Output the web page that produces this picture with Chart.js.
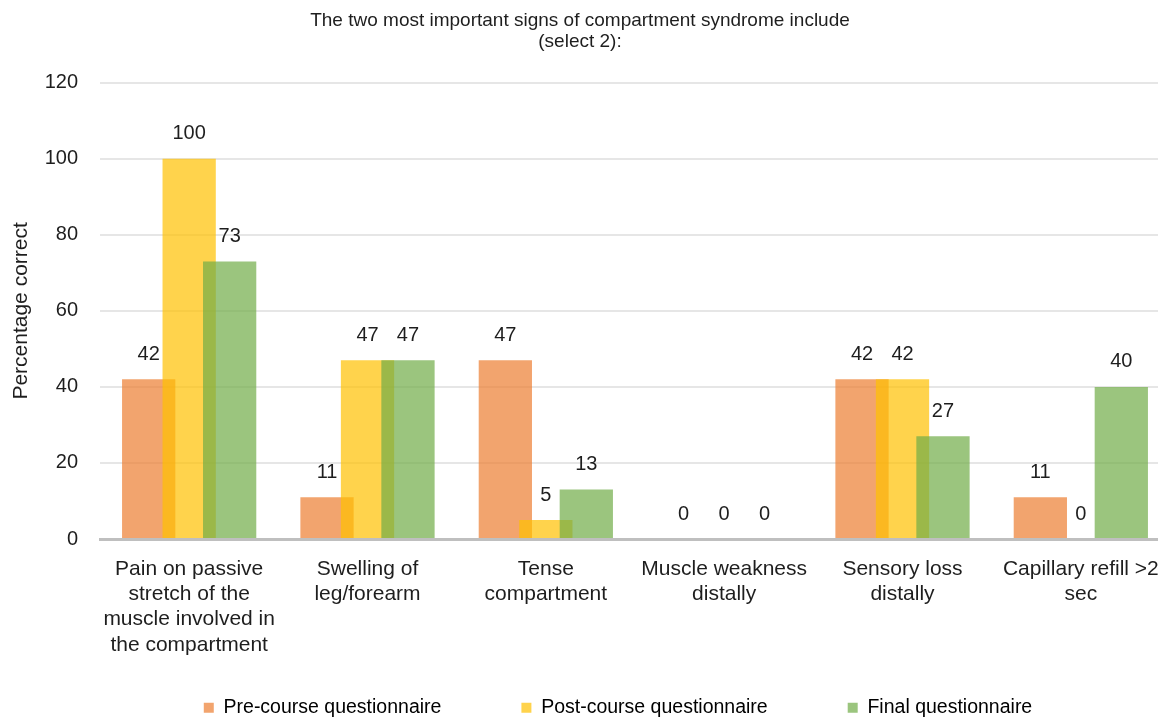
<!DOCTYPE html>
<html>
<head>
<meta charset="utf-8">
<script src="https://cdn.jsdelivr.net/npm/chart.js@4.4.0/dist/chart.umd.min.js"></script>
<style>
  html, body { margin: 0; padding: 0; overflow: hidden; background: #ffffff; }
  #wrap { position: relative; width: 1170px; height: 718px; }
</style>
</head>
<body>
<div id="wrap"><canvas id="c"></canvas></div>
<script>
const categories = [
  ["Pain on passive", "stretch of the", "muscle involved in", "the compartment"],
  ["Swelling of", "leg/forearm"],
  ["Tense", "compartment"],
  ["Muscle weakness", "distally"],
  ["Sensory loss", "distally"],
  ["Capillary refill >2", "sec"]
];
const preCourse = [42, 11, 47, 0, 42, 11];
const postCourse = [100, 47, 5, 0, 42, 0];
const finalQ = [73, 47, 13, 0, 27, 40];
const seriesNames = ["Pre-course questionnaire", "Post-course questionnaire", "Final questionnaire"];
const yTicks = [0, 20, 40, 60, 80, 100, 120];

const FONT = "'Liberation Sans', Arial, sans-serif";
const TXT = '#1e1e1e';

// draw datasets in index order so later series sit on top of earlier ones
const drawOrderPlugin = {
  id: 'drawOrder',
  beforeDatasetsDraw(chart) {
    for (let i = 0; i < chart.data.datasets.length; i++) {
      if (!chart.isDatasetVisible(i)) continue;
      chart.getDatasetMeta(i).controller.draw();
    }
    return false;
  }
};

// nudge title and legend blocks to match the reference placement
const blockShiftPlugin = {
  id: 'blockShift',
  afterLayout(chart) {
    const t = chart.titleBlock;
    if (t) { t.left -= 5; t.right -= 5; }
    const l = chart.legend;
    if (l) {
      l.left -= 17; l.right -= 17;
      l.top -= 41;
      l.bottom = chart.height;
      l.height = l.bottom - l.top;
    }
  }
};

const valueLabelPlugin = {
  id: 'valueLabels',
  afterDraw(chart) {
    const ctx = chart.ctx;
    ctx.save();
    ctx.font = "20px " + FONT;
    ctx.fillStyle = TXT;
    ctx.textAlign = 'center';
    ctx.textBaseline = 'middle';
    chart.data.datasets.forEach((ds, i) => {
      if (!chart.isDatasetVisible(i)) return;
      chart.getDatasetMeta(i).data.forEach((bar, j) => {
        ctx.fillText(String(ds.data[j]), bar.x, bar.y - 25);
      });
    });
    ctx.restore();
  }
};

new Chart(document.getElementById('c'), {
  type: 'bar',
  data: {
    labels: categories,
    datasets: [
      { label: seriesNames[0], data: preCourse, backgroundColor: 'rgba(237,125,49,0.7)' },
      { label: seriesNames[1], data: postCourse, backgroundColor: 'rgba(255,192,0,0.7)' },
      { label: seriesNames[2], data: finalQ, backgroundColor: 'rgba(112,173,71,0.7)' }
    ]
  },
  options: {
    responsive: true,
    maintainAspectRatio: false,
    animation: false,
    datasets: {
      bar: { categoryPercentage: 0.681, barPercentage: 1.316, borderWidth: 0 }
    },
    layout: { padding: { left: 0, right: 0, top: 0, bottom: 0 } },
    plugins: {
      tooltip: { enabled: false },
      title: {
        display: true,
        text: ["The two most important signs of compartment syndrome include", "(select 2):"],
        color: TXT,
        font: { family: FONT, size: 19, weight: 'normal', lineHeight: 1.1 },
        padding: { top: 10, bottom: 31 }
      },
      legend: {
        display: true,
        position: 'bottom',
        fullSize: false,
        maxHeight: 59,
        labels: {
          color: TXT,
          font: { family: FONT, size: 19.5 },
          boxWidth: 10,
          boxHeight: 10,
          padding: 80,
          generateLabels(chart) {
            return chart.data.datasets.map((ds, i) => ({
              text: ds.label,
              fillStyle: ds.backgroundColor,
              strokeStyle: ds.backgroundColor,
              lineWidth: 0,
              hidden: !chart.isDatasetVisible(i),
              datasetIndex: i
            }));
          }
        }
      }
    },
    scales: {
      x: {
        z: 1,
        afterFit(scale) { scale.height = 120; scale.paddingLeft = 0; scale.paddingRight = 0; },
        grid: { display: false, drawTicks: false },
        border: { display: true, color: '#bfbfbf', width: 3 },
        ticks: {
          color: TXT,
          font: { family: FONT, size: 21, lineHeight: 1.21 },
          padding: 17,
          maxRotation: 0,
          autoSkip: false
        }
      },
      y: {
        min: 0,
        max: 120,
        afterBuildTicks(scale) { scale.ticks = yTicks.map(v => ({ value: v })); },
        afterFit(scale) { scale.width = 100; },
        grid: {
          drawTicks: false,
          color: ctx => ctx.tick && ctx.tick.value === 0 ? 'rgba(0,0,0,0)' : '#e6e6e6',
          lineWidth: 2
        },
        border: { display: false },
        ticks: {
          color: TXT,
          font: { family: FONT, size: 20 },
          padding: 22
        },
        title: {
          display: true,
          text: 'Percentage correct',
          color: TXT,
          font: { family: FONT, size: 21 },
          padding: { top: 9, bottom: 0 }
        }
      }
    }
  },
  plugins: [drawOrderPlugin, blockShiftPlugin, valueLabelPlugin]
});
</script>
</body>
</html>
